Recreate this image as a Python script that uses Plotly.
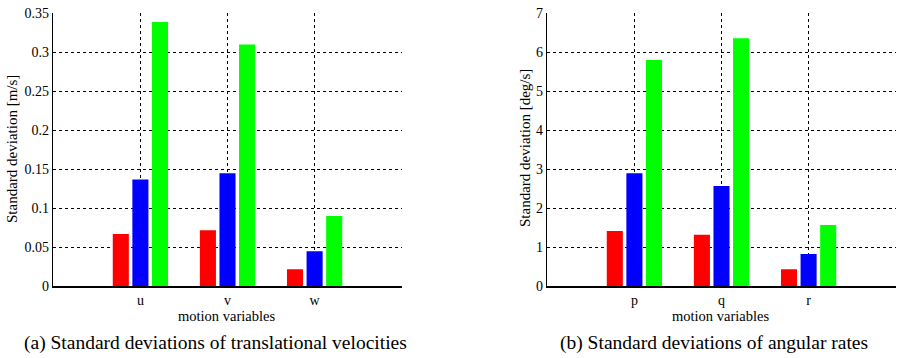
import plotly.graph_objects as go
from plotly.subplots import make_subplots

W, H = 910, 358

cats_a = ["u", "v", "w"]
cats_b = ["p", "q", "r"]
series_names = ["Series 1", "Series 2", "Series 3"]
colors = ["#ff0000", "#0000ff", "#00ff00"]

vals_a = [
    [0.067, 0.072, 0.022],   # red
    [0.137, 0.145, 0.045],   # blue
    [0.339, 0.310, 0.090],   # green
]
vals_b = [
    [1.42, 1.32, 0.44],
    [2.90, 2.57, 0.83],
    [5.80, 6.36, 1.57],
]

yticks_a = [0, 0.05, 0.1, 0.15, 0.2, 0.25, 0.3, 0.35]
yticklabels_a = ["0", "0.05", "0.1", "0.15", "0.2", "0.25", "0.3", "0.35"]
yticks_b = [0, 1, 2, 3, 4, 5, 6, 7]

FONT = "Liberation Serif"

fig = make_subplots(rows=1, cols=2)

for i in range(3):
    fig.add_trace(go.Bar(x=cats_a, y=vals_a[i], name=series_names[i],
                         marker=dict(color=colors[i], line=dict(width=0)),
                         showlegend=False), row=1, col=1)
    fig.add_trace(go.Bar(x=cats_b, y=vals_b[i], name=series_names[i],
                         marker=dict(color=colors[i], line=dict(width=0)),
                         showlegend=False), row=1, col=2)

def px(x):
    return x / W

def py(y):
    return 1 - y / H

ax_common = dict(showgrid=True, gridcolor="black", gridwidth=1, griddash="3px,3px",
                 showline=True, linecolor="black", linewidth=1.5, ticks="",
                 zeroline=False, automargin=False,
                 tickfont=dict(family=FONT, size=14, color="black"))

fig.update_xaxes(domain=[px(53.3), px(401.7)], range=[-1, 3], type="category",
                 row=1, col=1, **ax_common)
fig.update_xaxes(domain=[px(547.3), px(895.7)], range=[-1, 3], type="category",
                 row=1, col=2, **ax_common)
fig.update_yaxes(domain=[py(286.3), py(13.3)], range=[0, 0.35], tickvals=yticks_a,
                 ticktext=yticklabels_a, row=1, col=1, **ax_common)
fig.update_yaxes(domain=[py(286.3), py(13.3)], range=[0, 7], tickvals=yticks_b,
                 row=1, col=2, **ax_common)

ann = []
def add_text(x, y, text, size, angle=0):
    ann.append(dict(x=px(x), y=py(y), xref="paper", yref="paper", text=text,
                    showarrow=False, textangle=angle, xanchor="center", yanchor="middle",
                    font=dict(family=FONT, size=size, color="black")))

add_text(226, 315.5, "motion variables", 14.5)
add_text(720, 315.5, "motion variables", 14.5)
add_text(12, 149, "Standard deviation [m/s]", 15, -90)
add_text(525, 148, "Standard deviation [deg/s]", 15, -90)
add_text(215, 343, "(a) Standard deviations of translational velocities", 19.5)
add_text(714, 343, "(b) Standard deviations of angular rates", 19.5)

fig.update_layout(template="none", width=W, height=H, margin=dict(l=0, r=0, t=0, b=0),
                  paper_bgcolor="white", plot_bgcolor="white",
                  barmode="group", bargap=0.325, bargroupgap=0.18,
                  annotations=ann, font=dict(family=FONT, color="black"))

fig.write_html("out.html", config={"displayModeBar": False, "staticPlot": True},
               post_script="document.body.style.margin='0';")
with open("out.html", "r", encoding="utf-8") as f:
    html = f.read()
html = html.replace("<head>", "<head><style>html,body{margin:0;padding:0;overflow:hidden;}</style>", 1)
with open("out.html", "w", encoding="utf-8") as f:
    f.write(html)
